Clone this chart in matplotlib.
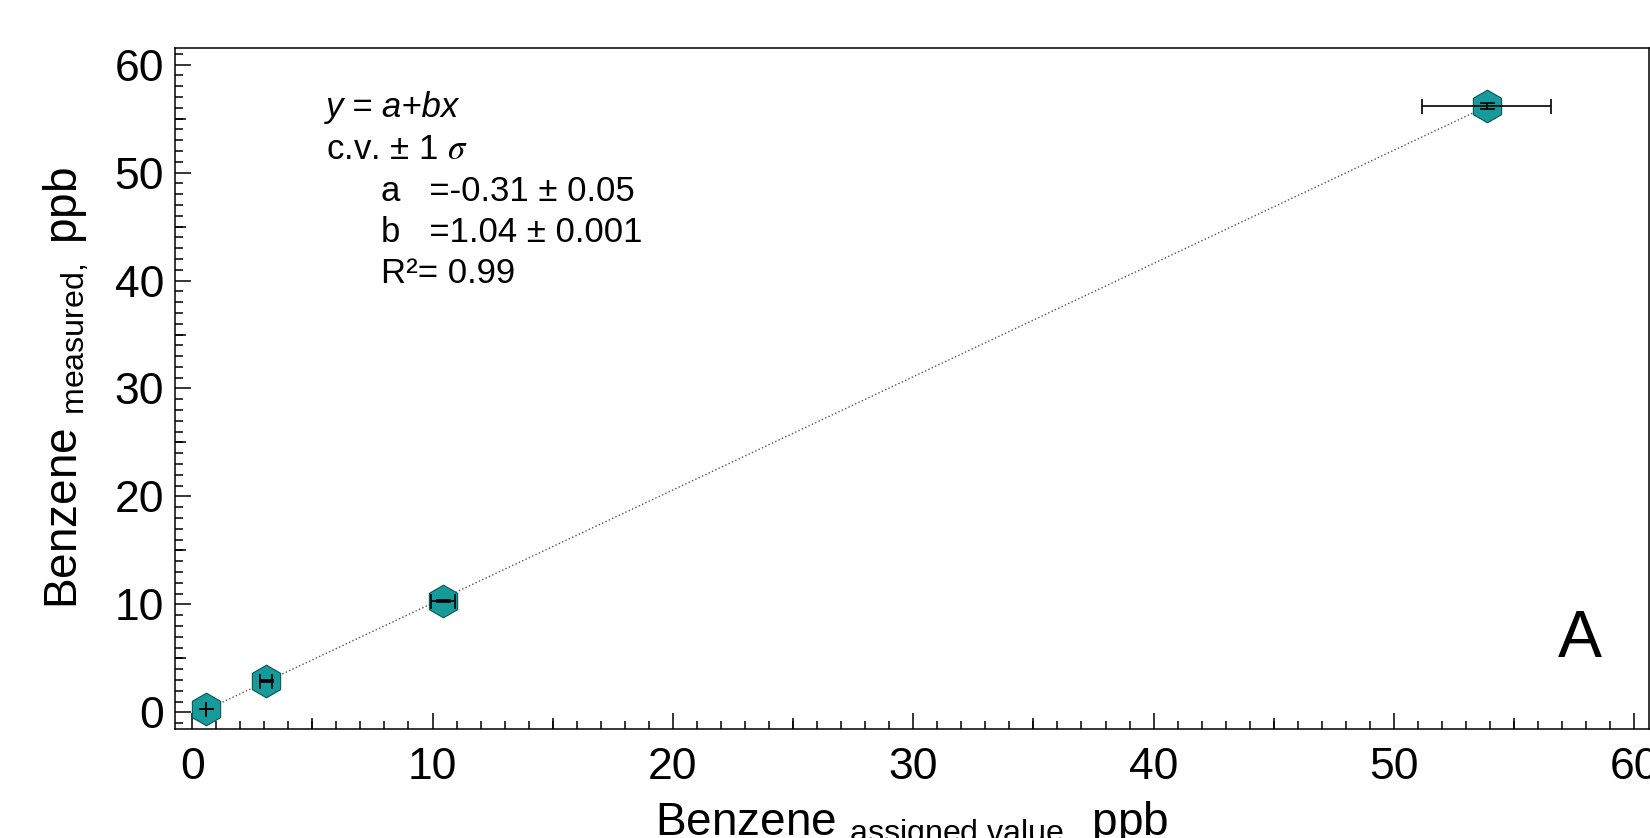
import numpy as np
import matplotlib
matplotlib.use("Agg")
import matplotlib.pyplot as plt
from matplotlib.ticker import MultipleLocator

plt.rcParams["font.family"] = ["Liberation Sans", "DejaVu Sans"]
plt.rcParams["mathtext.fontset"] = "custom"
plt.rcParams["mathtext.rm"] = "Liberation Sans"
plt.rcParams["mathtext.it"] = "Liberation Sans:italic"

# benzene calibration points (ppb)
assigned = np.array([0.57, 3.08, 10.44, 53.86])
measured = np.array([0.35, 2.95, 10.32, 56.16])
assigned_err = np.array([0.0, 0.26, 0.50, 2.69])
measured_err = np.array([0.0, 0.10, 0.10, 0.25])

x_ticks = [0, 10, 20, 30, 40, 50, 60]
y_ticks = [0, 10, 20, 30, 40, 50, 60]
mid_ticks = [5, 15, 25, 35, 45, 55]

fit_lines = ["y = a+bx", "c.v. \u00b1 1 "]
coef_lines = ["a   =-0.31 \u00b1 0.05", "b   =1.04 \u00b1 0.001", "R\u00b2= 0.99"]

fig = plt.figure(figsize=(16.5, 8.38), dpi=100)
ax = fig.add_axes([0.1061, 0.1301, 0.8933, 0.8126])

# regression line from the points
coef = np.polyfit(assigned, measured, 1)
xx = np.array([assigned.min(), assigned.max()])
ax.plot(xx, np.polyval(coef, xx), ls=":", color="#555555", lw=1.0, zorder=1)

ax.plot(assigned, measured, ls="none", marker="h", ms=23.5,
        mfc="#169a9a", mec="#0d5555", mew=0.8, zorder=2)
ax.errorbar(assigned, measured, xerr=assigned_err, yerr=measured_err,
            fmt="none", ecolor="black", elinewidth=1.2, capsize=5.4,
            capthick=1.2, zorder=3)

ax.set_xlim(-0.71, 60.61)
ax.set_ylim(-1.53, 61.53)
ax.set_xticks(x_ticks)
ax.set_yticks(y_ticks)
ax.xaxis.set_minor_locator(MultipleLocator(1))
ax.yaxis.set_minor_locator(MultipleLocator(1))

for s in ax.spines.values():
    s.set_linewidth(1.1)
ax.tick_params(which="both", direction="in", top=False, right=False, width=1.1)
ax.tick_params(which="major", length=11.5, labelsize=32)
ax.tick_params(axis="x", which="major", pad=13)
ax.tick_params(axis="y", which="major", pad=8)
ax.tick_params(which="minor", length=5.5)

# medium ticks at the fives
secx = ax.secondary_xaxis("bottom")
secx.set_xticks(mid_ticks)
secx.tick_params(direction="in", length=8, width=1.1, labelbottom=False)
secx.spines["bottom"].set_visible(False)
secy = ax.secondary_yaxis("left")
secy.set_yticks(mid_ticks)
secy.tick_params(direction="in", length=8, width=1.1, labelleft=False)
secy.spines["left"].set_visible(False)

ax.set_xlabel(r"Benzene $_{\mathrm{assigned\ value,}}$ ppb", fontsize=33)
ax.set_ylabel(r"Benzene $_{\mathrm{measured,}}$ ppb", fontsize=33)
ax.xaxis.set_label_coords(0.5, -0.103)
ax.yaxis.set_label_coords(-0.057, 0.5)

ax.text(0.1024, 0.899, fit_lines[0], style="italic", fontsize=25,
        transform=ax.transAxes, va="baseline")
ax.text(0.1024, 0.837, fit_lines[1] + r"$\sigma$", fontsize=25,
        transform=ax.transAxes, va="baseline", math_fontfamily="stix")
for i, line in enumerate(coef_lines):
    ax.text(0.1398, 0.775 - i * 0.06, line, fontsize=25,
            transform=ax.transAxes, va="baseline")

ax.text(0.9532, 0.106, "A", fontsize=47.5, ha="center", va="baseline",
        transform=ax.transAxes)

fig.savefig("out.png", dpi=100)
